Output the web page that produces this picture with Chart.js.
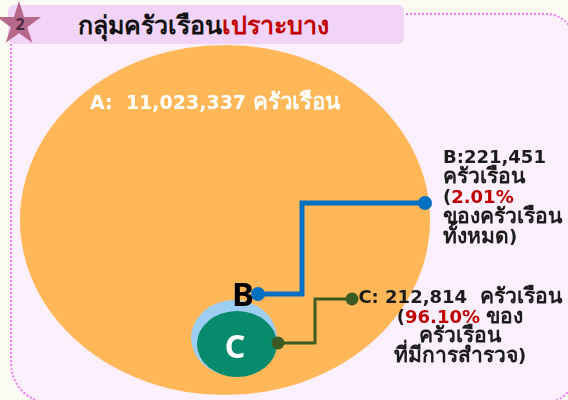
<!DOCTYPE html>
<html>
<head>
<meta charset="utf-8">
<script src="https://cdn.jsdelivr.net/npm/chart.js"></script>
<style>
  html, body { margin: 0; padding: 0; }
  body {
    width: 568px; height: 400px; overflow: hidden; position: relative;
    background: #fbfaf3; font-family: 'Noto Sans', sans-serif;
  }
  .panel {
    position: absolute; left: 10px; top: 13px; width: 565px; height: 391px;
    box-sizing: border-box; border: 2px dotted #ef7cef;
    border-radius: 28px 28px 30px 40px; background: #fcf0fd;
  }
  .titlebox {
    position: absolute; left: 8px; top: 5px; width: 396px; height: 39px;
    background: #f2d4f8; border-radius: 6px; z-index: 2;
    box-sizing: border-box; padding-left: 70px;
    font-size: 25px; font-weight: bold; line-height: 39px; white-space: nowrap;
  }
  .titlebox .dark { color: #111; }
  .titlebox .red { color: #c00000; }
  .star {
    position: absolute; left: -4px; top: 1px; width: 46px; height: 46px; z-index: 3;
    background: #b7698c;
    clip-path: polygon(50% 0%, 61% 35%, 98% 35%, 68% 57%, 79% 91%, 50% 70%, 21% 91%, 32% 57%, 2% 35%, 39% 35%);
  }
  .star span {
    position: absolute; left: 1px; width: 100%; top: 14px; text-align: center;
    font-size: 16px; font-weight: bold; color: #4a2742; line-height: 18px;
  }
  #wrap { position: absolute; left: 0; top: 0; width: 568px; height: 400px; z-index: 1; }
</style>
</head>
<body>
<div class="panel"></div>
<div class="titlebox"><span class="dark">กลุ่มครัวเรือน</span><span class="red">เปราะบาง</span></div>
<div class="star"><span>2</span></div>
<div id="wrap"><canvas id="myChart" width="568" height="400"></canvas></div>

<script>
'use strict';

// data
const groups = ['A', 'B', 'C'];
const households = [11023337, 221451, 212814];
const shares = [null, 2.01, 96.10];
const unitText = 'ครัวเรือน';

const fmt = n => n.toLocaleString('en-US');

// layout (in scale units, 1 unit = 1 px here)
const shapes = [
  { x: 225, y: 220, rx: 205, ry: 175, color: '#ffb758', order: 5 },
  { x: 234, y: 338, rx: 43, ry: 38, color: '#9dcdf0', order: 4 },
  { x: 237, y: 344, rx: 40, ry: 33, color: '#088a6c', order: 3 }
];

const leaderB = [{ x: 258, y: 294 }, { x: 302, y: 294 }, { x: 302, y: 203 }, { x: 425, y: 203 }];
const leaderC = [{ x: 278, y: 343 }, { x: 315, y: 343 }, { x: 315, y: 299 }, { x: 352, y: 299 }];

const DARK = '#1c1c1c';
const RED = '#c00000';
const LABEL_FONT = '"DejaVu Sans", sans-serif';
const THAI_SCALE = 1.17;

function ellipseSprite(chart, s) {
  const sx = chart.scales.x;
  const sy = chart.scales.y;
  const w = Math.abs(sx.getPixelForValue(s.x + s.rx) - sx.getPixelForValue(s.x - s.rx));
  const h = Math.abs(sy.getPixelForValue(s.y + s.ry) - sy.getPixelForValue(s.y - s.ry));
  const c = document.createElement('canvas');
  c.width = Math.ceil(w);
  c.height = Math.ceil(h);
  const g = c.getContext('2d');
  g.fillStyle = s.color;
  g.beginPath();
  g.ellipse(c.width / 2, c.height / 2, w / 2, h / 2, 0, 0, Math.PI * 2);
  g.fill();
  return c;
}

let bubbleSets = groups.map((g, i) => ({
  type: 'bubble',
  label: g,
  data: [{ x: shapes[i].x, y: shapes[i].y, r: 1 }],
  order: shapes[i].order,
  pointStyle: ctx => ellipseSprite(ctx.chart, shapes[i]),
  backgroundColor: shapes[i].color,
  borderWidth: 0
}));

function leaderSet(points, color, width, dot) {
  return {
    type: 'line',
    data: points,
    order: 1,
    borderColor: color,
    borderWidth: width,
    tension: 0,
    fill: false,
    pointRadius: ctx => (ctx.dataIndex === 0 || ctx.dataIndex === points.length - 1) ? dot : 0,
    pointBackgroundColor: color,
    pointBorderWidth: 0
  };
}

// text blocks, each line is a list of [text, colour] runs
const labelBlocks = [
  {
    x: 90, y: 109, align: 'left', size: 19, lineH: 20,
    lines: [[[groups[0] + ':  ' + fmt(households[0]) + ' ' + unitText, '#ffffff']]]
  },
  {
    x: 443, y: 163, align: 'left', size: 18, lineH: 20,
    lines: [
      [[groups[1] + ':' + fmt(households[1]), DARK]],
      [[unitText, DARK]],
      [['(', DARK], [shares[1].toFixed(2) + '%', RED]],
      [['ของครัวเรือน', DARK]],
      [['ทั้งหมด)', DARK]]
    ]
  },
  {
    x: 460, y: 303, align: 'center', size: 18, lineH: 19.5,
    lines: [
      [[groups[2] + ': ' + fmt(households[2]) + '  ' + unitText, DARK]],
      [['(', DARK], [shares[2].toFixed(2) + '%', RED], [' ของ', DARK]],
      [[unitText, DARK]],
      [['ที่มีการสำรวจ)', DARK]]
    ]
  },
  { x: 243, y: 306, align: 'center', size: 33, lineH: 33, font: '"Noto Sans", sans-serif', lines: [[[groups[1], '#000000']]] },
  { x: 235, y: 358, align: 'center', size: 32, lineH: 32, font: '"Noto Sans", sans-serif', lines: [[[groups[2], '#ffffff']]] }
];

// split a run into Thai / non-Thai pieces so Thai can be drawn a bit larger
function pieces(text) {
  return text.match(/[\u0E00-\u0E7F]+|[^\u0E00-\u0E7F]+/g) || [];
}
const isThai = s => /[\u0E00-\u0E7F]/.test(s);

const labelPlugin = {
  id: 'groupLabels',
  afterDatasetsDraw(chart) {
    const ctx = chart.ctx;
    const { x: sx, y: sy } = chart.scales;
    ctx.save();
    ctx.textBaseline = 'alphabetic';
    ctx.textAlign = 'left';
    labelBlocks.forEach(block => {
      const family = block.font || LABEL_FONT;
      const fontFor = p => 'bold ' + (isThai(p) ? block.size * THAI_SCALE : block.size) + 'px ' + family;
      block.lines.forEach((runs, li) => {
        const parts = [];
        runs.forEach(r => pieces(r[0]).forEach(p => parts.push([p, r[1]])));
        let total = 0;
        parts.forEach(p => {
          ctx.font = fontFor(p[0]);
          total += ctx.measureText(p[0]).width;
        });
        let px = sx.getPixelForValue(block.x);
        if (block.align === 'center') px -= total / 2;
        const py = sy.getPixelForValue(block.y + li * block.lineH);
        parts.forEach(p => {
          ctx.font = fontFor(p[0]);
          ctx.fillStyle = p[1];
          ctx.fillText(p[0], px, py);
          px += ctx.measureText(p[0]).width;
        });
      });
    });
    ctx.restore();
  }
};

const canvasElem = document.getElementById('myChart').getContext('2d');

new Chart(canvasElem, {
  type: 'bubble',
  data: {
    datasets: [
      leaderSet(leaderB, '#0070c0', 5, 7),
      leaderSet(leaderC, '#3b5b22', 3, 6.5),
      ...bubbleSets
    ]
  },
  options: {
    responsive: false,
    animation: false,
    devicePixelRatio: 1,
    events: [],
    layout: { padding: 0, autoPadding: false },
    plugins: { legend: { display: false }, tooltip: { enabled: false } },
    scales: {
      x: { type: 'linear', min: 0, max: 568, display: false },
      y: { type: 'linear', min: 0, max: 400, reverse: true, display: false }
    }
  },
  plugins: [labelPlugin]
});
</script>
</body>
</html>
